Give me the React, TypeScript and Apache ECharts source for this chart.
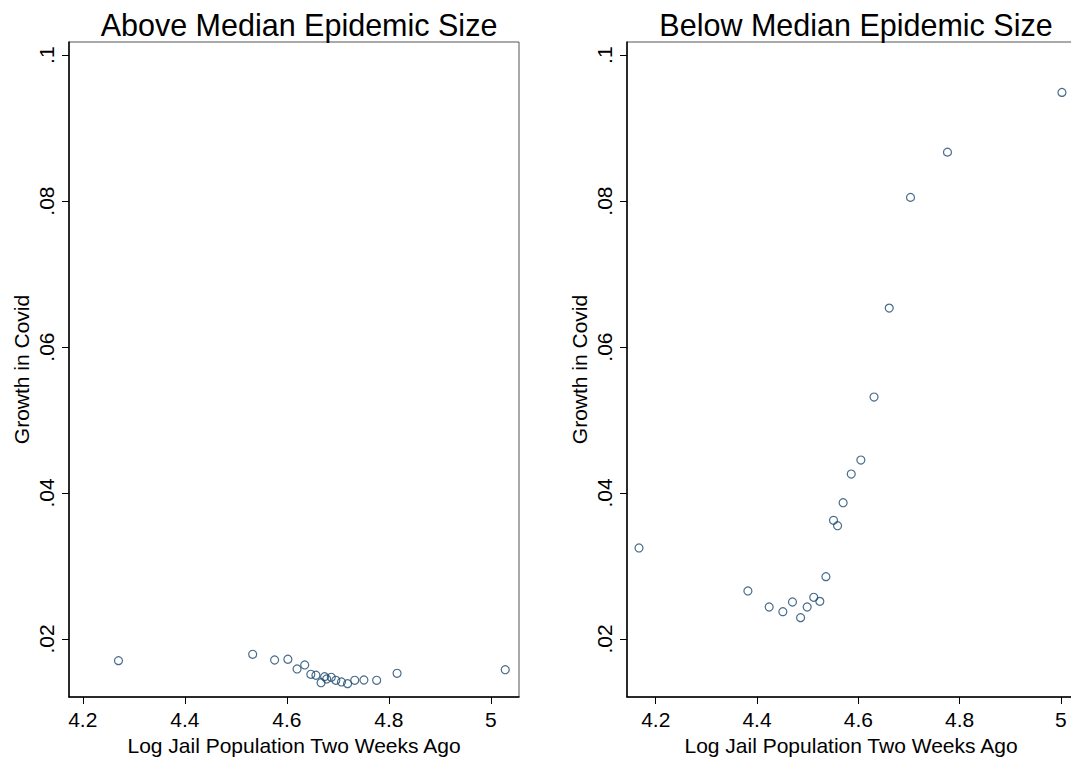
import React, { useEffect, useRef } from "react";
import * as echarts from "echarts";

// Above Median Epidemic Size
const aboveX = [4.27, 4.533, 4.576, 4.602, 4.62, 4.635, 4.647, 4.657, 4.667, 4.674, 4.678, 4.687, 4.696, 4.707, 4.719, 4.733, 4.751, 4.776, 4.816, 5.028];
const aboveY = [0.01703, 0.0179, 0.01712, 0.01722, 0.01589, 0.01644, 0.01516, 0.01503, 0.01401, 0.01484, 0.01452, 0.01475, 0.01434, 0.01411, 0.01388, 0.01434, 0.01438, 0.01434, 0.0153, 0.01579];

// Below Median Epidemic Size
const belowX = [4.167, 4.382, 4.424, 4.451, 4.47, 4.486, 4.499, 4.512, 4.524, 4.536, 4.551, 4.559, 4.57, 4.586, 4.605, 4.631, 4.661, 4.703, 4.776, 5.002];
const belowY = [0.03247, 0.02658, 0.02438, 0.02374, 0.02507, 0.02292, 0.02438, 0.02571, 0.02516, 0.02854, 0.03626, 0.03552, 0.03867, 0.0426, 0.04452, 0.05315, 0.06534, 0.08051, 0.08671, 0.09489];

const xTicks = [4.2, 4.4, 4.6, 4.8, 5];
const yTicks = [0.02, 0.04, 0.06, 0.08, 0.1];

const titles = ["Above Median Epidemic Size", "Below Median Epidemic Size"];
const xName = "Log Jail Population Two Weeks Ago";
const yName = "Growth in Covid";

const FONT = "Liberation Sans, Arial, sans-serif";
const MARK = "#1a476f";

export default function App() {
  const ref = useRef<HTMLDivElement>(null);
  useEffect(() => {
    if (!ref.current) return;
    const chart = echarts.init(ref.current, null, { renderer: "svg" });
    const grids = [
      { left: 69, top: 42, width: 450, height: 655 },
      { left: 627, top: 42, width: 470, height: 655 },
    ];
    const xRanges = [
      [4.173, 5.055],
      [4.1433, 5.0712],
    ];
    // visible centre of each panel (right panel is cut at the page edge)
    const namePad = [0, 22];
    const titleCenters = [294, 851];
    const yFmt = (v: number) => String(+v.toFixed(2)).replace(/^0/, "");
    const option: any = {
      animation: false,
      backgroundColor: "#fff",
      textStyle: { fontFamily: FONT },
      title: titles.map((t, i) => ({
        text: t,
        left: titleCenters[i],
        top: 4,
        textAlign: "center",
        textStyle: { fontFamily: FONT, fontSize: 30.5, fontWeight: "normal", color: "#000" },
      })),
      grid: grids.map((g) => ({
        ...g,
        outerBoundsMode: "none",
        containLabel: false,
        show: true,
        borderColor: "#555",
        borderWidth: 1,
        backgroundColor: "#fff",
      })),
      xAxis: xRanges.map((r, i) => ({
        type: "value",
        gridIndex: i,
        min: r[0],
        max: r[1],
        name: xName,
        nameLocation: "middle",
        nameGap: 36,
        nameTextStyle: { fontFamily: FONT, fontSize: 21, color: "#000", padding: [0, namePad[i], 0, 0] },
        axisLine: { show: true, onZero: false, lineStyle: { color: "#000", width: 1.5 } },
        axisTick: { show: true, length: 7, customValues: xTicks, lineStyle: { color: "#000" } },
        axisLabel: { customValues: xTicks, fontFamily: FONT, fontSize: 21, color: "#000", margin: 12 },
        splitLine: { show: false },
      })),
      yAxis: [0, 1].map((i) => ({
        type: "value",
        gridIndex: i,
        min: 0.01205,
        max: 0.1018,
        name: yName,
        nameLocation: "middle",
        nameGap: 37,
        nameTextStyle: { fontFamily: FONT, fontSize: 21, color: "#000" },
        axisLine: { show: true, onZero: false, lineStyle: { color: "#000", width: 1.5 } },
        axisTick: { show: true, length: 7, customValues: yTicks, lineStyle: { color: "#000" } },
        axisLabel: { customValues: yTicks, rotate: 90, formatter: yFmt, fontFamily: FONT, fontSize: 21, color: "#000", margin: 12 },
        splitLine: { show: false },
      })),
      series: [
        {
          type: "scatter",
          xAxisIndex: 0,
          yAxisIndex: 0,
          symbol: "circle",
          symbolSize: 8,
          itemStyle: { color: "rgba(0,0,0,0)", borderColor: MARK, borderWidth: 1.2 },
          data: aboveX.map((x, k) => [x, aboveY[k]]),
        },
        {
          type: "scatter",
          xAxisIndex: 1,
          yAxisIndex: 1,
          symbol: "circle",
          symbolSize: 8,
          itemStyle: { color: "rgba(0,0,0,0)", borderColor: MARK, borderWidth: 1.2 },
          data: belowX.map((x, k) => [x, belowY[k]]),
        },
      ],
    };
    chart.setOption(option);
    return () => chart.dispose();
  }, []);
  return (
    <div
      ref={ref}
      style={{ position: "fixed", left: 0, top: 0, width: 1071, height: 762, background: "#fff" }}
    />
  );
}
